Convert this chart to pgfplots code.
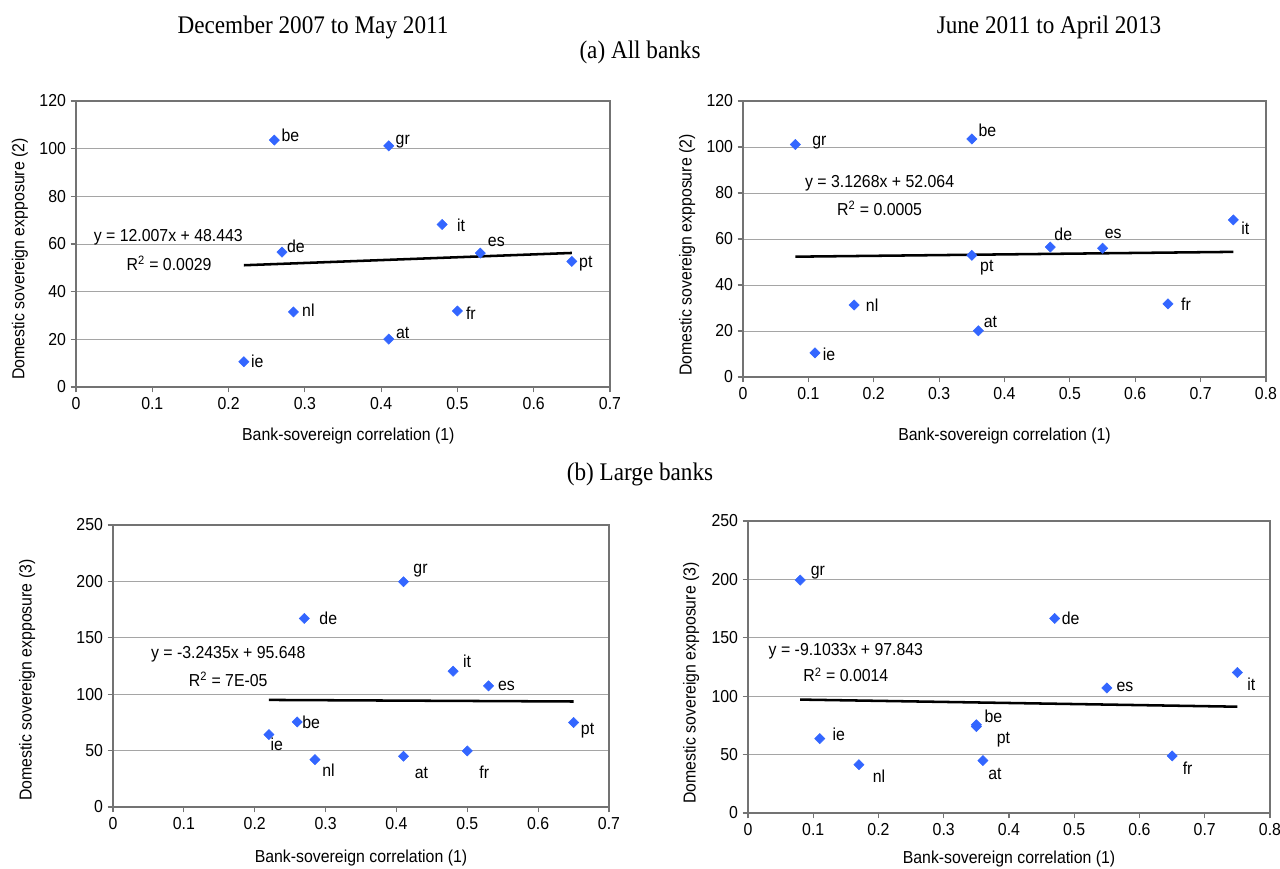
\documentclass[border=0pt]{standalone}
\usepackage{fontspec}
\setmainfont{Liberation Sans}[FakeStretch=0.915]
\newfontfamily\titlefont{Liberation Serif}[FakeStretch=0.915]
\usepackage{pgfplots}
\pgfplotsset{compat=1.18}

\definecolor{ptblue}{RGB}{51,102,255}
\definecolor{gridgray}{RGB}{165,165,165}
\definecolor{framegray}{RGB}{115,115,115}

\pgfplotsset{
  panel/.style={
    scale only axis,
    clip=false,
    /pgf/number format/assume math mode=true,
    axis line style={framegray, line width=0.8pt},
    tick style={framegray, line width=0.8pt},
    major tick length=4pt,
    tick align=outside,
    tick pos=left,
    ymajorgrids,
    major grid style={gridgray, line width=0.6pt},
    xmin=0, ymin=0,
    xlabel={Bank-sovereign correlation (1)},
  },
  pts/.style={
    only marks, mark=square*, mark size=2.7pt,
    mark options={rotate=45, fill=ptblue, draw=ptblue},
    point meta=explicit symbolic,
    nodes near coords,
    visualization depends on={\thisrow{dx}\as\lx},
    visualization depends on={\thisrow{dy}\as\ly},
    nodes near coords style={anchor=center, inner sep=0pt, text=black,
      xshift=\lx*0.75pt, yshift=\ly*0.75pt},
  },
  trend/.style={black, line width=1.9pt, no marks},
}

\begin{document}
\begin{tikzpicture}[font=\fontsize{13}{15}\selectfont]
\path[use as bounding box] (0,0) rectangle (960pt,-651pt);

% titles
\node[font=\titlefont\fontsize{19}{22}\selectfont, anchor=base] at (234.75pt,-24.75pt) {December 2007 to May 2011};
\node[font=\titlefont\fontsize{19}{22}\selectfont, anchor=base] at (786.75pt,-24.75pt) {June 2011 to April 2013};
\node[font=\titlefont\fontsize{19}{22}\selectfont, anchor=base] at (480pt,-43.5pt) {(a) All banks};
\node[font=\titlefont\fontsize{19}{22}\selectfont, anchor=base] at (480pt,-360pt) {(b) Large banks};

% (a) all banks, Dec 2007 - May 2011
\begin{axis}[panel,
  at={(57pt,-290.25pt)}, anchor=south west,
  width=400.5pt, height=214.5pt,
  xmax=0.7, ymax=120,
  xtick={0,0.1,0.2,0.3,0.4,0.5,0.6,0.7},
  ytick={0,20,40,60,80,100,120},
  ylabel={Domestic sovereign expposure (2)},
  ylabel style={at={(axis description cs:-0.105,0.448)}, anchor=center},
  xlabel style={at={(axis description cs:0.51,0)}, anchor=center, yshift=-37pt},
]
\addplot[trend] coordinates {(0.22,51.085) (0.65,56.248)};
\addplot[pts] table[meta=lab] {
x y lab dx dy
0.26 103.6 be 16 5
0.41 101.2 gr 14 4
0.48 68.2 it 19 -1
0.27 56.6 de 14 6
0.53 56.2 es 16 11
0.65 52.7 pt 14 -2
0.285 31.5 nl 15 2
0.50 31.9 fr 13.5 -2
0.41 20.1 at 14 6
0.22 10.6 ie 13.5 0
};
\node at (axis cs:0.121,62.9) {y = 12.007x + 48.443};
\node at (axis cs:0.122,52.0) {R\textsuperscript{2} = 0.0029};
\end{axis}

% (a) all banks, Jun 2011 - Apr 2013
\begin{axis}[panel,
  at={(557.25pt,-282.75pt)}, anchor=south west,
  width=392.25pt, height=207pt,
  xmax=0.8, ymax=120,
  xtick={0,0.1,0.2,0.3,0.4,0.5,0.6,0.7,0.8},
  ytick={0,20,40,60,80,100,120},
  ylabel={Domestic sovereign expposure (2)},
  ylabel style={at={(axis description cs:-0.107,0.442)}, anchor=center},
  xlabel style={at={(axis description cs:0.5,0)}, anchor=center, yshift=-44pt},
]
\addplot[trend] coordinates {(0.08,52.314) (0.75,54.409)};
\addplot[pts] table[meta=lab] {
x y lab dx dy
0.08 101.1 gr 24 2
0.35 103.5 be 15.5 9
0.47 56.5 de 13 13
0.55 56.0 es 10.6 14
0.35 52.9 pt 15 -12
0.75 68.3 it 12 -8
0.17 31.3 nl 18 0
0.65 31.8 fr 18 0
0.36 20.1 at 12 9
0.11 10.5 ie 14 -1
};
\node at (axis cs:0.209,84.2) {y = 3.1268x + 52.064};
\node at (axis cs:0.209,73.5) {R\textsuperscript{2} = 0.0005};
\end{axis}

% (b) large banks, Dec 2007 - May 2011
\begin{axis}[panel,
  at={(84.75pt,-605.25pt)}, anchor=south west,
  width=372pt, height=211.5pt,
  xmax=0.7, ymax=250,
  xtick={0,0.1,0.2,0.3,0.4,0.5,0.6,0.7},
  ytick={0,50,100,150,200,250},
  ylabel={Domestic sovereign expposure (3)},
  ylabel style={at={(axis description cs:-0.173,0.45)}, anchor=center},
  xlabel style={at={(axis description cs:0.5,0)}, anchor=center, yshift=-38.25pt},
]
\addplot[trend] coordinates {(0.22,94.934) (0.65,93.540)};
\addplot[pts] table[meta=lab] {
x y lab dx dy
0.41 199.7 gr 17 11
0.27 167.2 de 24 0
0.48 120.4 it 14 10
0.53 107.4 es 18 0
0.26 75.4 be 14 0
0.22 64.2 ie 8 -10
0.65 74.9 pt 14 -8
0.285 42.0 nl 13.5 -11
0.41 45.0 at 18 -17
0.50 49.7 fr 17 -21
};
\node at (axis cs:0.1626,135.5) {y = -3.2435x + 95.648};
\node at (axis cs:0.1626,113) {R\textsuperscript{2} = 7E-05};
\end{axis}

% (b) large banks, Jun 2011 - Apr 2013
\begin{axis}[panel,
  at={(561pt,-609.75pt)}, anchor=south west,
  width=391.5pt, height=219pt,
  xmax=0.8, ymax=250,
  xtick={0,0.1,0.2,0.3,0.4,0.5,0.6,0.7,0.8},
  ytick={0,50,100,150,200,250},
  ylabel={Domestic sovereign expposure (3)},
  ylabel style={at={(axis description cs:-0.109,0.445)}, anchor=center},
  xlabel style={at={(axis description cs:0.5,0)}, anchor=center, yshift=-34.5pt},
]
\addplot[trend] coordinates {(0.08,97.115) (0.75,91.016)};
\addplot[pts] table[meta=lab] {
x y lab dx dy
0.08 199.4 gr 17.6 7
0.47 166.6 de 16 0
0.55 107.1 es 18 1
0.75 120.3 it 14 -12
0.35 75.5 be 17 9
0.35 74.0 pt 27 -13
0.36 44.9 at 12 -13
0.11 63.7 ie 19 4
0.17 41.4 nl 20 -12
0.65 48.9 fr 15.5 -12
};
\node at (axis cs:0.15,138.9) {y = -9.1033x + 97.843};
\node at (axis cs:0.15,118.3) {R\textsuperscript{2} = 0.0014};
\end{axis}
\end{tikzpicture}
\end{document}
